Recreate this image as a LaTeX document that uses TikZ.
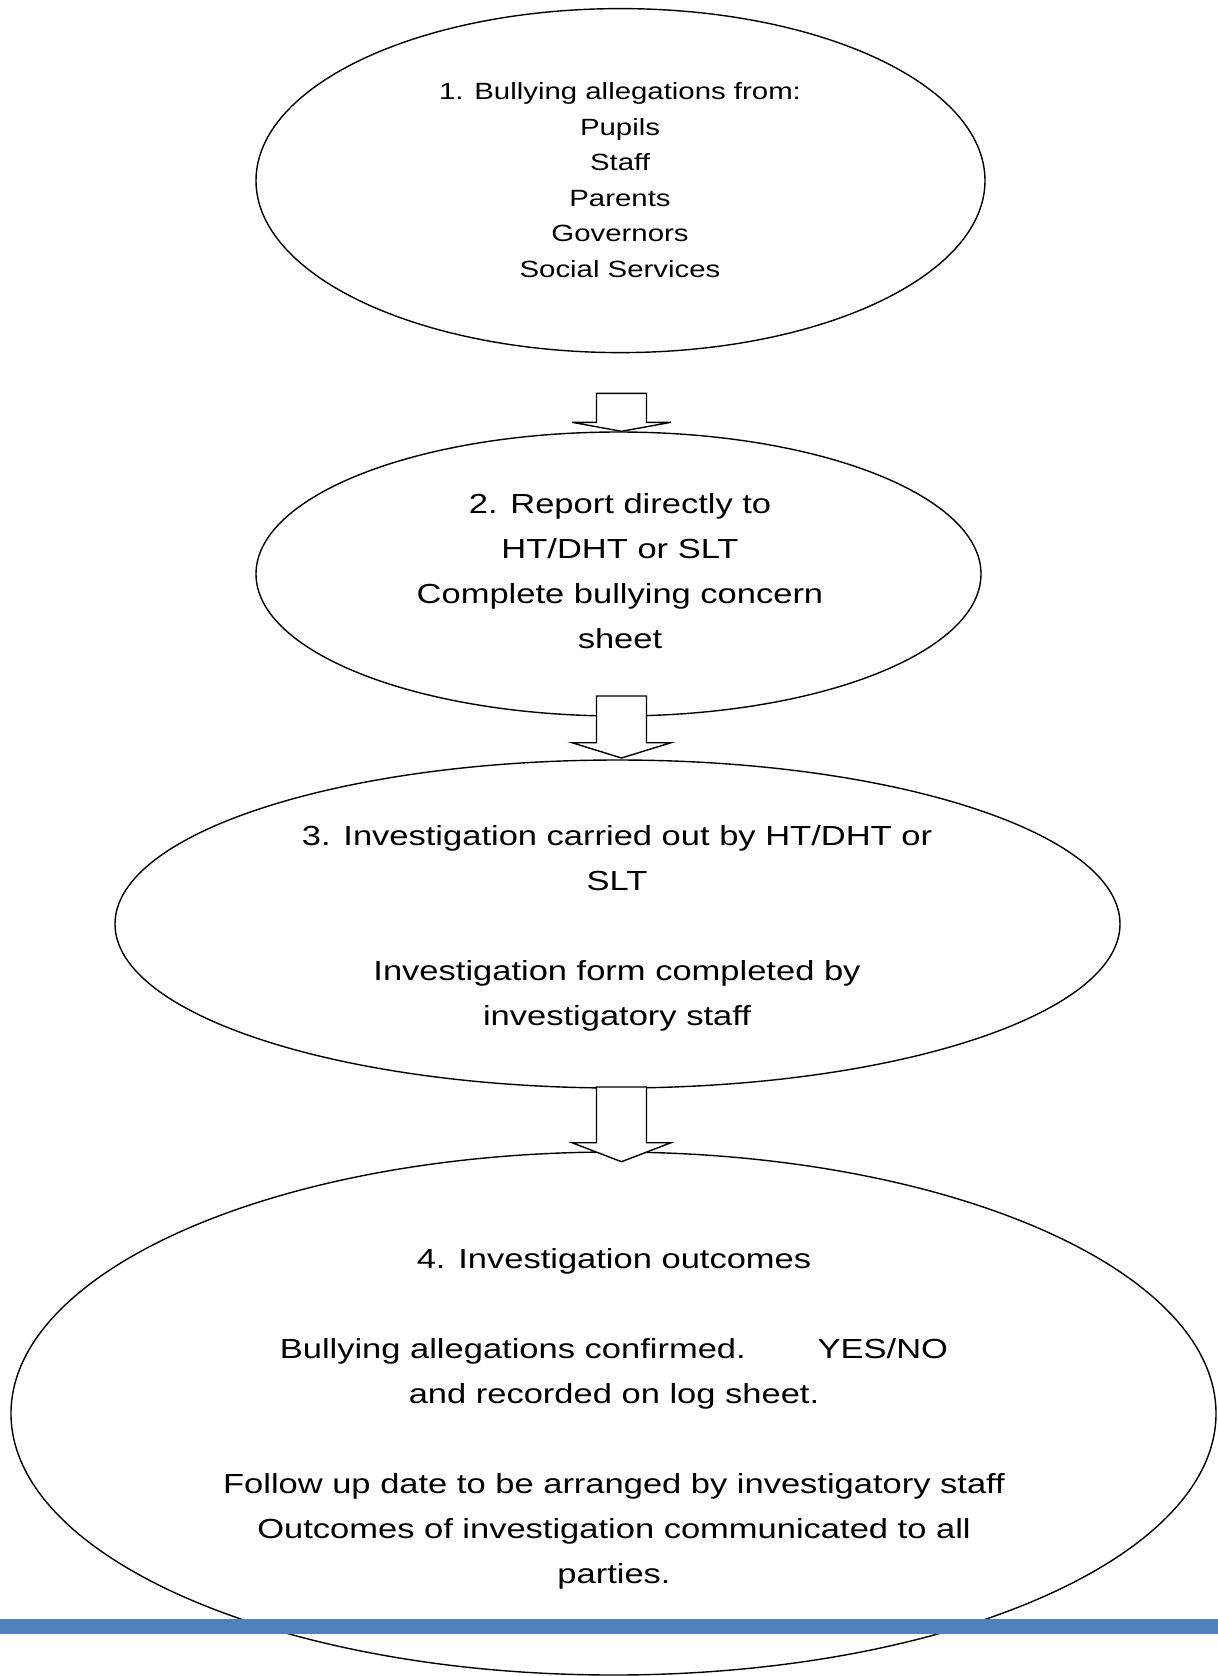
\documentclass[tikz,border=0pt]{standalone}
\usepackage{fontspec}
\setmainfont{Liberation Sans}[FakeStretch=1.25]
\usetikzlibrary{shapes.geometric}
\definecolor{barblue}{HTML}{4F81BD}
\tikzset{
  oval/.style={ellipse, draw, line width=1.4pt, inner sep=0pt},
  arrowline/.style={draw, fill=white, line width=1.4pt, line join=miter},
  bodytext/.style={align=center, font=\fontsize{27.6}{45}\selectfont},
  smalltext/.style={align=center, font=\fontsize{23.5}{35.5}\selectfont},
  pics/downarrow/.style 2 args={code={
    \draw[arrowline] (-25,{-#1-#2}) -- (25,{-#1-#2}) -- (25,-#2) -- (49.5,-#2)
      -- (0,0) -- (-49.5,-#2) -- (-25,-#2) -- cycle;}}
}
\begin{document}
\begin{tikzpicture}[x=1pt,y=-1pt]
\useasboundingbox (0,0) rectangle (1218,1676);
\node[oval, minimum width=729pt, minimum height=344pt] (e1) at (620.5,180.6) {};
\node[oval, minimum width=725pt, minimum height=284pt] (e2) at (618.5,574) {};
\node[oval, minimum width=1005pt, minimum height=328pt] (e3) at (617.5,924) {};
\node[oval, minimum width=1205pt, minimum height=523pt] (e4) at (613.5,1413.5) {};

\node[smalltext] (t1) at (620,180) {1. Bullying allegations from:\\Pupils\\Staff\\Parents\\Governors\\Social Services};
\node[bodytext] (t2) at (620,571) {2. Report directly to\\HT/DHT or SLT\\Complete bullying concern\\sheet};
\node[bodytext] (t3) at (617,928) {3. Investigation carried out by HT/DHT or\\SLT\\[45pt]Investigation form completed by\\investigatory staff};
\node[bodytext] (t4) at (614,1419) {4. Investigation outcomes\\[45pt]Bullying allegations confirmed.\hspace*{72pt}YES/NO\\and recorded on log sheet.\\[45pt]Follow up date to be arranged by investigatory staff\\Outcomes of investigation communicated to all\\parties.};

\coordinate (tip1) at ([xshift=3pt]e2.north);
\coordinate (tip2) at (621.5,758);
\coordinate (tip3) at (621.5,1161.7);
\pic at (tip1) {downarrow={29}{9}};
\pic at (tip2) {downarrow={46.7}{15.3}};
\pic at (tip3) {downarrow={55.7}{19}};

\fill[barblue] (0,1619) rectangle (1218,1634);
\end{tikzpicture}
\end{document}
